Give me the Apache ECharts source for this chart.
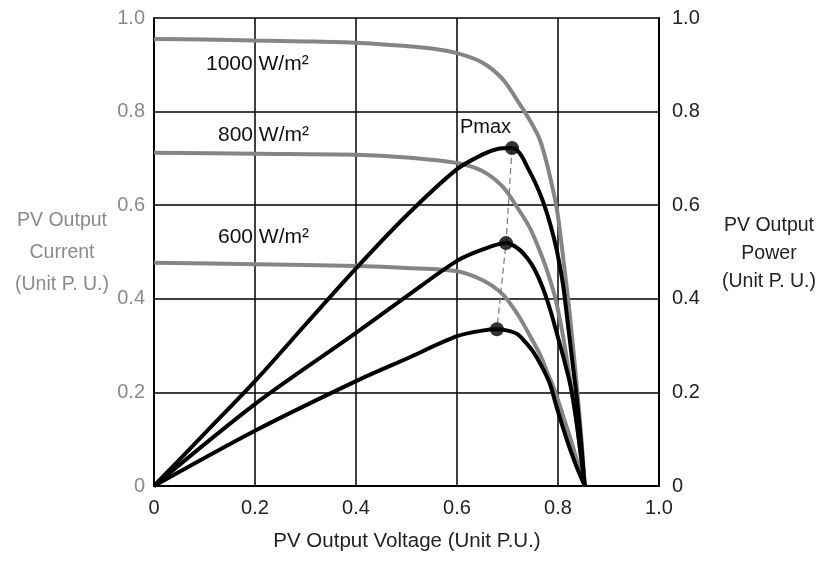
<!DOCTYPE html>
<html>
<head>
<meta charset="utf-8">
<script src="https://cdn.jsdelivr.net/npm/echarts@6/dist/echarts.min.js"></script>
<style>
  html, body { margin: 0; padding: 0; background: #fff; }
  #myChart { width: 821px; height: 561px; }
</style>
</head>
<body>
<div id="myChart"></div>
<script>
  // I-V curves (grey), current in p.u.
  const iv1000V = [0, 0.1, 0.2, 0.3, 0.4, 0.5, 0.55, 0.6, 0.65, 0.69, 0.72, 0.745, 0.764, 0.78, 0.798, 0.81, 0.822, 0.834, 0.845, 0.853];
  const iv1000I = [0.955, 0.954, 0.952, 0.95, 0.947, 0.94, 0.935, 0.925, 0.905, 0.87, 0.823, 0.78, 0.74, 0.68, 0.59, 0.49, 0.38, 0.25, 0.12, 0];
  const iv800V = [0, 0.2, 0.4, 0.5, 0.6, 0.65, 0.69, 0.72, 0.745, 0.764, 0.78, 0.795, 0.81, 0.825, 0.84, 0.853];
  const iv800I = [0.712, 0.71, 0.708, 0.702, 0.69, 0.673, 0.64, 0.594, 0.55, 0.502, 0.455, 0.4, 0.32, 0.22, 0.11, 0];
  const iv600V = [0, 0.2, 0.4, 0.5, 0.6, 0.65, 0.69, 0.72, 0.745, 0.764, 0.78, 0.795, 0.81, 0.825, 0.84, 0.853];
  const iv600I = [0.477, 0.474, 0.47, 0.466, 0.459, 0.44, 0.41, 0.367, 0.32, 0.282, 0.24, 0.2, 0.15, 0.1, 0.045, 0];

  // P-V curves (black), power in p.u.
  const pv1000V = [0, 0.1, 0.2, 0.3, 0.4, 0.5, 0.6, 0.65, 0.68, 0.709, 0.725, 0.74, 0.755, 0.77, 0.785, 0.798, 0.81, 0.818, 0.828, 0.838, 0.846, 0.853];
  const pv1000P = [0, 0.112, 0.224, 0.345, 0.465, 0.578, 0.677, 0.708, 0.72, 0.722, 0.71, 0.68, 0.648, 0.609, 0.558, 0.502, 0.43, 0.36, 0.27, 0.18, 0.09, 0];
  const pv800V = [0, 0.2, 0.4, 0.5, 0.6, 0.65, 0.697, 0.72, 0.739, 0.755, 0.77, 0.785, 0.798, 0.812, 0.824, 0.835, 0.844, 0.853];
  const pv800P = [0, 0.175, 0.327, 0.405, 0.481, 0.505, 0.519, 0.508, 0.487, 0.46, 0.423, 0.375, 0.325, 0.27, 0.218, 0.15, 0.075, 0];
  const pv600V = [0, 0.2, 0.4, 0.5, 0.6, 0.65, 0.679, 0.7, 0.719, 0.735, 0.75, 0.768, 0.784, 0.797, 0.81, 0.825, 0.838, 0.853];
  const pv600P = [0, 0.118, 0.224, 0.272, 0.32, 0.332, 0.335, 0.332, 0.325, 0.308, 0.288, 0.255, 0.218, 0.17, 0.124, 0.075, 0.038, 0];

  // maximum power points
  const pmaxV = [0.709, 0.697, 0.679];
  const pmaxP = [0.722, 0.519, 0.335];

  const tickValues = [0, 0.2, 0.4, 0.6, 0.8, 1.0];
  const tickLabels = ['0', '0.2', '0.4', '0.6', '0.8', '1.0'];

  const FONT = "'Liberation Sans', Arial, sans-serif";

  function zip (xs, ys) {
    return xs.map((x, i) => [x, ys[i]]);
  }
  function fmt (v) {
    let i = tickValues.findIndex(t => Math.abs(t - v) < 1e-6);
    return i >= 0 ? tickLabels[i] : '';
  }

  function grey (data) {
    return {
      type: 'line', data: data, yAxisIndex: 0, showSymbol: false, smooth: 0.3,
      lineStyle: { color: '#858585', width: 4 }, z: 2
    };
  }
  function black (data) {
    return {
      type: 'line', data: data, yAxisIndex: 1, showSymbol: false, smooth: 0.3,
      lineStyle: { color: '#000', width: 4 }, z: 3
    };
  }

  const yCommon = {
    type: 'value', min: 0, max: 1, interval: 0.2,
    axisLine: { show: true, lineStyle: { color: '#000', width: 2 } },
    axisTick: { show: false },
    splitLine: { show: false }
  };

  let option = {
    backgroundColor: '#fff',
    animation: false,
    grid: { left: 154, right: 162, top: 18, bottom: 75 },
    xAxis: {
      type: 'value', min: 0, max: 1, interval: 0.2,
      axisLine: { show: true, lineStyle: { color: '#000', width: 2 } },
      axisTick: { show: false },
      splitLine: { show: true, lineStyle: { color: '#000', width: 1.5 } },
      axisLabel: { formatter: fmt, color: '#222', fontFamily: FONT, fontSize: 20, margin: 12 }
    },
    yAxis: [
      Object.assign({}, yCommon, {
        position: 'left',
        splitLine: { show: true, lineStyle: { color: '#000', width: 1.5 } },
        axisLabel: { formatter: fmt, color: '#8a8a8a', fontFamily: FONT, fontSize: 20, margin: 9 }
      }),
      Object.assign({}, yCommon, {
        position: 'right',
        axisLabel: { formatter: fmt, color: '#222', fontFamily: FONT, fontSize: 20, margin: 13 }
      })
    ],
    series: [
      grey(zip(iv1000V, iv1000I)),
      grey(zip(iv800V, iv800I)),
      grey(zip(iv600V, iv600I)),
      black(zip(pv1000V, pv1000P)),
      black(zip(pv800V, pv800P)),
      black(zip(pv600V, pv600P)),
      {
        type: 'line', data: zip(pmaxV, pmaxP), yAxisIndex: 1, showSymbol: false,
        lineStyle: { color: '#777', width: 1.2, type: [6, 4] }, z: 4
      },
      {
        type: 'scatter', data: zip(pmaxV, pmaxP), yAxisIndex: 1, symbolSize: 14,
        itemStyle: { color: '#000' }, z: 5
      }
    ],
    graphic: [
      {
        type: 'text', left: 206, top: 54,
        style: { text: '1000 W/m²', font: '21px ' + FONT, fill: '#111' }
      },
      {
        type: 'text', left: 218, top: 125,
        style: { text: '800 W/m²', font: '21px ' + FONT, fill: '#111' }
      },
      {
        type: 'text', left: 218, top: 227,
        style: { text: '600 W/m²', font: '21px ' + FONT, fill: '#111' }
      },
      {
        type: 'text', left: 460, top: 117,
        style: { text: 'Pmax', font: '20px ' + FONT, fill: '#111' }
      },
      {
        type: 'text', x: 62, y: 253,
        style: { text: 'PV Output\nCurrent\n(Unit P. U.)', font: '19.5px ' + FONT, fill: '#8a8a8a',
          align: 'center', verticalAlign: 'middle', lineHeight: 32 }
      },
      {
        type: 'text', x: 769, y: 254,
        style: { text: 'PV Output\nPower\n(Unit P. U.)', font: '19.5px ' + FONT, fill: '#222',
          align: 'center', verticalAlign: 'middle', lineHeight: 28 }
      },
      {
        type: 'text', x: 407, y: 541,
        style: { text: 'PV Output Voltage (Unit P.U.)', font: '20.5px ' + FONT, fill: '#222',
          align: 'center', verticalAlign: 'middle' }
      }
    ]
  };

  let myChart = echarts.init(document.getElementById('myChart'));
  myChart.setOption(option);
</script>
</body>
</html>
